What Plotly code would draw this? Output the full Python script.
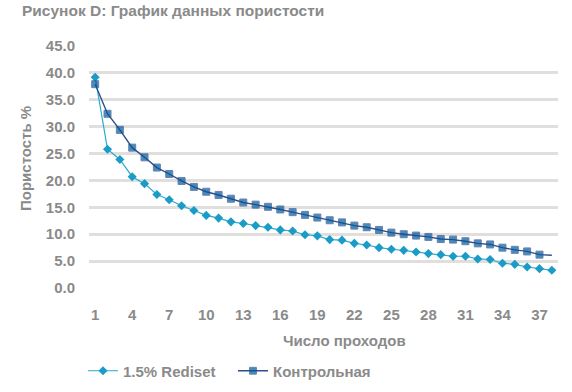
import plotly.graph_objects as go

passes = list(range(1, 39))
rediset = [39.2, 25.8, 23.9, 20.7, 19.4, 17.4, 16.4, 15.3, 14.4, 13.5, 13.0, 12.3, 12.0,
           11.6, 11.3, 10.8, 10.6, 9.9, 9.7, 9.0, 8.9, 8.3, 8.0, 7.5, 7.2, 7.0, 6.7, 6.4,
           6.2, 5.9, 5.9, 5.4, 5.3, 4.6, 4.4, 3.9, 3.6, 3.3]
control = [37.9, 32.4, 29.4, 26.1, 24.3, 22.4, 21.2, 19.9, 18.8, 17.9, 17.3, 16.6, 15.9,
           15.5, 15.1, 14.6, 14.1, 13.6, 13.1, 12.6, 12.2, 11.6, 11.3, 10.8, 10.3, 10.0,
           9.75, 9.5, 9.1, 9.0, 8.7, 8.3, 8.1, 7.5, 7.1, 6.8, 6.2, 6.1]
x_ticks = list(range(1, 38, 3))
y_ticks = [0, 5, 10, 15, 20, 25, 30, 35, 40, 45]

title_text = "Рисунок D: График данных пористости"
x_title = "Число проходов"
y_title = "Пористость %"
names = ["1.5% Rediset", "Контрольная"]

GRAY = "#8a8a8a"
FONT = "Liberation Sans, Arial, sans-serif"
W, H = 572, 392

fig = go.Figure()
fig.add_trace(go.Scatter(
    x=passes, y=rediset, name=names[0], mode="lines+markers",
    line=dict(color="#2aa8d2", width=1.2),
    marker=dict(symbol="diamond", size=7, color="#1a9cc6"),
))
ctrl_sizes = [7] * (len(control) - 1) + [0]
fig.add_trace(go.Scatter(
    x=passes, y=control, name=names[1], mode="lines+markers",
    line=dict(color="#2b4f8c", width=1.4),
    marker=dict(symbol="square", size=ctrl_sizes, color="#00589c"),
))

fig.update_layout(
    width=W, height=H,
    margin=dict(l=89, r=14, t=46, b=104, autoexpand=False),
    paper_bgcolor="white", plot_bgcolor="white",
    font=dict(family=FONT, color=GRAY, size=13, weight="bold"),
    title=dict(text=title_text, x=22 / W, xanchor="left", y=1 - 11 / H, yanchor="middle",
               font=dict(size=15.5, color=GRAY, family=FONT, weight="bold")),
    xaxis=dict(
        range=[0.5, 38.5], tickmode="array", tickvals=x_ticks,
        ticktext=[str(v) for v in x_ticks],
        showgrid=False, zeroline=False, showline=False, ticks="",
        ticklabelstandoff=16, tickfont=dict(size=15, color=GRAY, family=FONT, weight="bold"),
    ),
    yaxis=dict(
        range=[0, 45], tickmode="array", tickvals=y_ticks,
        ticktext=[f"{v:.1f}" for v in y_ticks],
        showgrid=True, gridcolor="#e0dfdd", gridwidth=3,
        zeroline=False, showline=False, ticks="",
        ticklabelstandoff=13, tickfont=dict(size=15, color=GRAY, family=FONT, weight="bold"),
    ),
    showlegend=True,
    legend=dict(orientation="h", xref="container", yref="container",
                x=83 / W, xanchor="left", y=1 - 371 / H, yanchor="middle",
                font=dict(size=15, color=GRAY, family=FONT, weight="bold"),
                itemwidth=30, entrywidth=105, bgcolor="rgba(0,0,0,0)"),
    annotations=[
        dict(text=x_title, xref="paper", yref="paper", x=(344 - 89) / 469, y=-(340 - 288) / 242,
             xanchor="center", yanchor="middle", showarrow=False,
             font=dict(size=15, color=GRAY, family=FONT, weight="bold")),
        dict(text=y_title, xref="paper", yref="paper", x=-(89 - 25) / 469, y=(288 - 159) / 242,
             xanchor="center", yanchor="middle", showarrow=False, textangle=-90,
             font=dict(size=15, color=GRAY, family=FONT, weight="bold")),
    ],
)

fig.write_html("out.html", config={"displayModeBar": False},
               post_script="document.body.style.margin='0';")
